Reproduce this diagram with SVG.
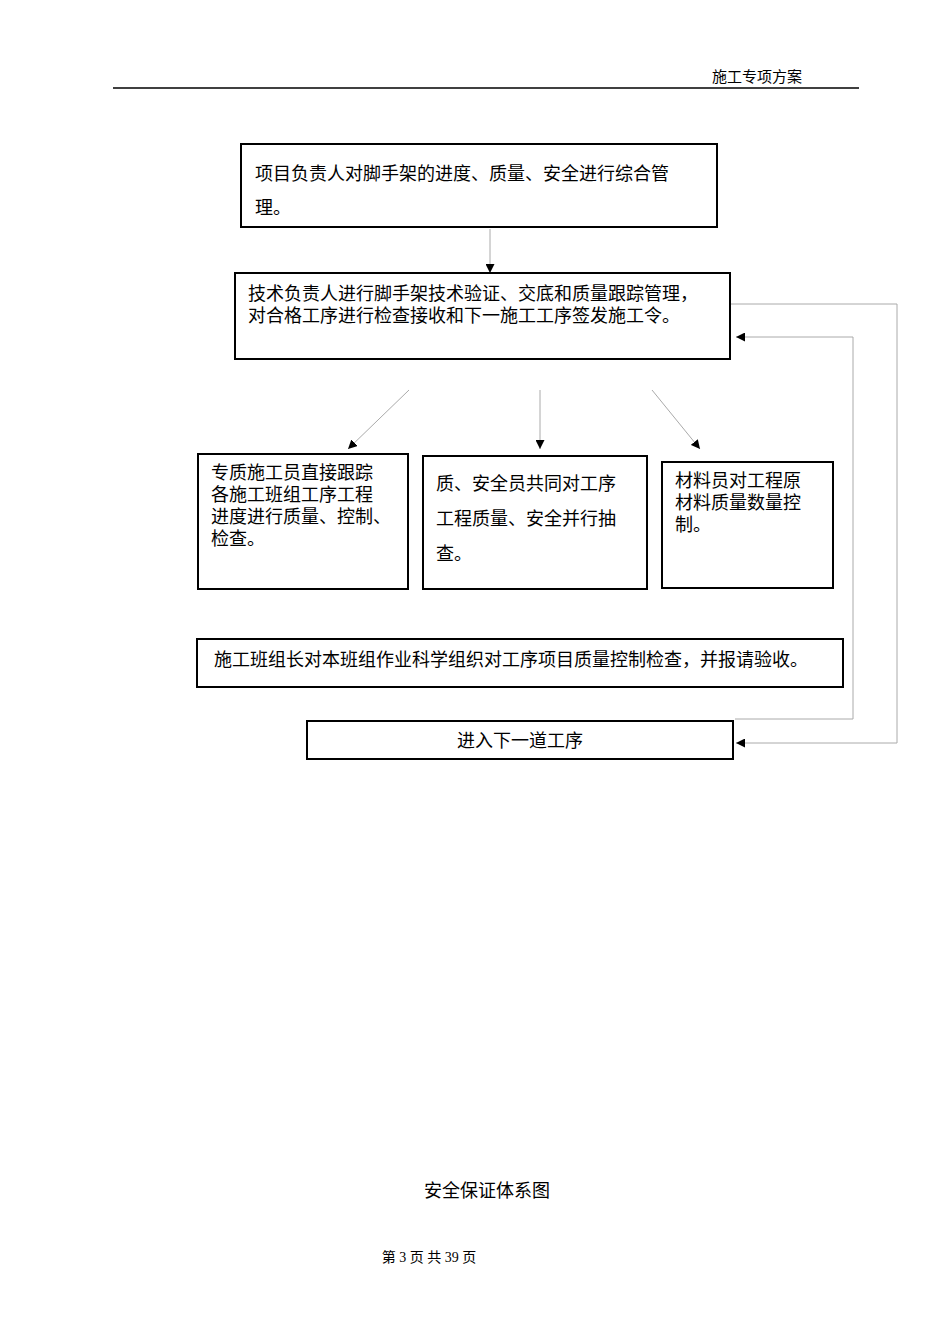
<svg xmlns="http://www.w3.org/2000/svg" width="950" height="1344" viewBox="0 0 950 1344">
<style>
.box{fill:#fff;stroke:#000;stroke-width:2}
.t{font-family:"Liberation Serif","Noto Sans CJK SC",serif;font-size:18px;fill:#000}
.c{stroke:#000;stroke-width:0.7;fill:none}
.g{stroke:#aaa;stroke-width:1;fill:none}
</style>
<defs><marker id="a" viewBox="0 0 10 10" refX="10" refY="5" markerWidth="9" markerHeight="9" markerUnits="userSpaceOnUse" orient="auto"><path d="M0,0L10,5L0,10z" fill="#000"/></marker></defs>
<rect width="950" height="1344" fill="#fff"/>
<text class="t" x="712" y="82" style="font-size:15px">施工专项方案</text>
<line x1="113" y1="88" x2="859" y2="88" stroke="#000" stroke-width="1.5"/>
<g id="connectors">
<line class="g" x1="490" y1="229" x2="490" y2="273" marker-end="url(#a)"/>
<line class="g" x1="409" y1="390" x2="348" y2="449" marker-end="url(#a)"/>
<line class="g" x1="540" y1="390" x2="540" y2="449" marker-end="url(#a)"/>
<line class="g" x1="652" y1="390" x2="700" y2="449" marker-end="url(#a)"/>
<polyline class="g" points="731,304 897,304 897,743 736,743" marker-end="url(#a)"/>
<polyline class="g" points="735,719 853,719 853,337 736,337" marker-end="url(#a)"/>
</g>
<g id="n1"><rect class="box" x="241" y="144" width="476" height="83"/>
<text class="t" x="255" y="180">项目负责人对脚手架的进度、质量、安全进行综合管</text><text class="t" x="255" y="214">理。</text></g>
<g id="n2"><rect class="box" x="235" y="273" width="495" height="86"/>
<text class="t" x="248" y="300">技术负责人进行脚手架技术验证、交底和质量跟踪管理，</text><text class="t" x="248" y="322">对合格工序进行检查接收和下一施工工序签发施工令。</text></g>
<g id="n3"><rect class="box" x="198" y="454" width="210" height="135"/>
<text class="t" x="211" y="479">专质施工员直接跟踪</text><text class="t" x="211" y="501">各施工班组工序工程</text><text class="t" x="211" y="523">进度进行质量、控制、</text><text class="t" x="211" y="545">检查。</text></g>
<g id="n4"><rect class="box" x="423" y="456" width="224" height="133"/>
<text class="t" x="436" y="490">质、安全员共同对工序</text><text class="t" x="436" y="525">工程质量、安全并行抽</text><text class="t" x="436" y="560">查。</text></g>
<g id="n5"><rect class="box" x="662" y="462" width="171" height="126"/>
<text class="t" x="675" y="487">材料员对工程原</text><text class="t" x="675" y="509">材料质量数量控</text><text class="t" x="675" y="531">制。</text></g>
<g id="n6"><rect class="box" x="197" y="639" width="646" height="48"/>
<text class="t" x="214" y="666">施工班组长对本班组作业科学组织对工序项目质量控制检查，并报请验收。</text></g>
<g id="n7"><rect class="box" x="307" y="721" width="426" height="38"/>
<text class="t" x="520" y="747" text-anchor="middle">进入下一道工序</text></g>
<text class="t" x="487" y="1197" text-anchor="middle">安全保证体系图</text>
<text class="t" x="429" y="1262" text-anchor="middle" style="font-size:14px">第 3 页 共 39 页</text>
</svg>
